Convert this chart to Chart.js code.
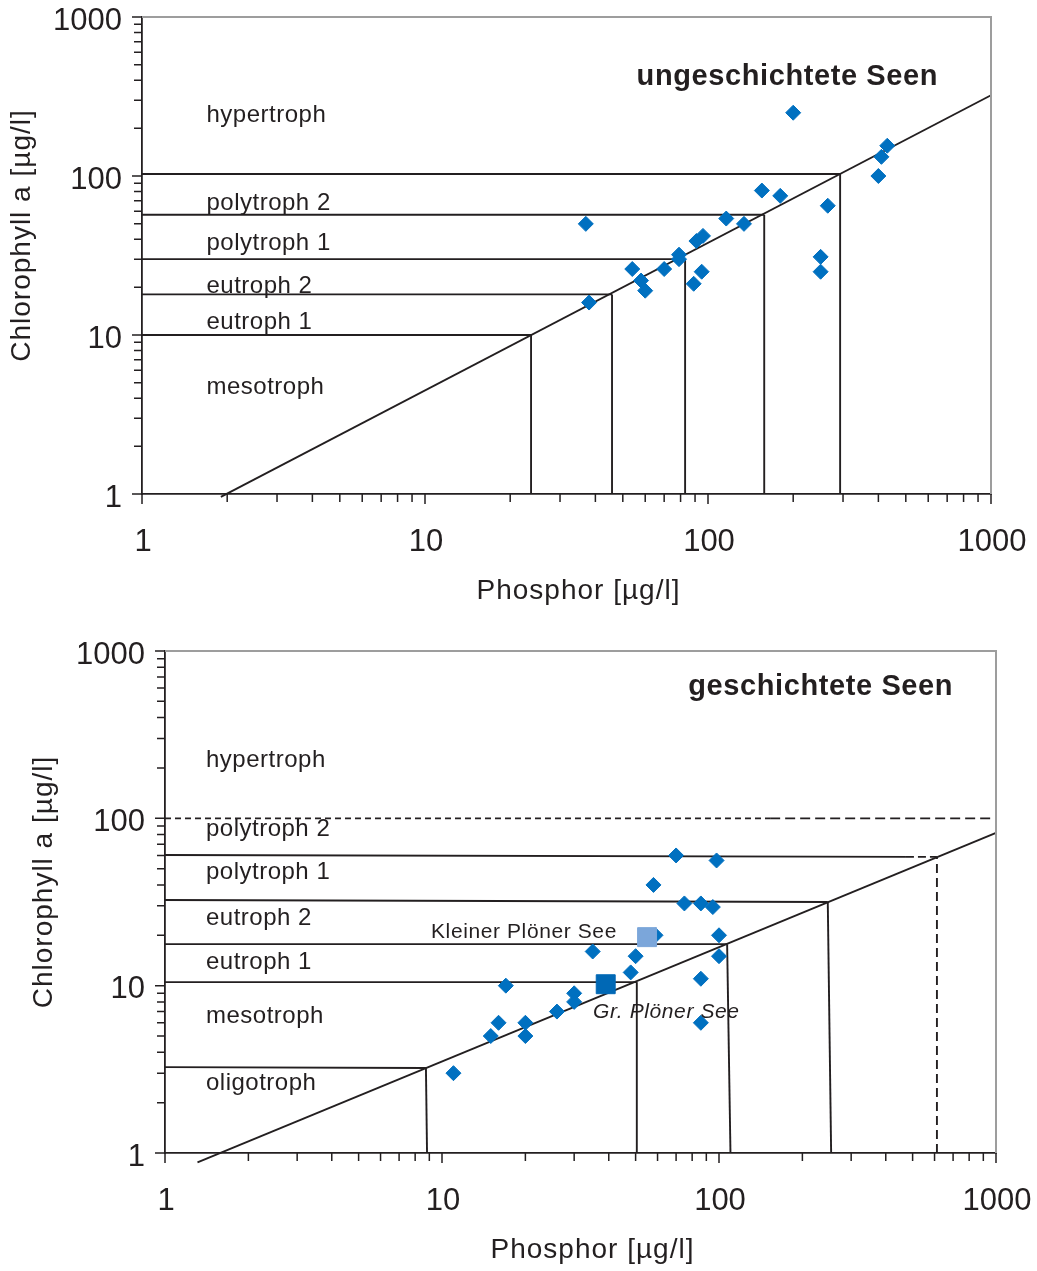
<!DOCTYPE html>
<html>
<head>
<meta charset="utf-8">
<script src="https://cdn.jsdelivr.net/npm/chart.js@4.4.1/dist/chart.umd.min.js"></script>
<style>
  body { margin: 0; background: #fff; }
  #topWrap { position: absolute; left: 0; top: 0; width: 1037px; height: 620px; }
  #botWrap { position: absolute; left: 0; top: 625px; width: 1037px; height: 646px; }
</style>
</head>
<body>
<div id="topWrap"><canvas id="topChart"></canvas></div>
<div id="botWrap"><canvas id="botChart"></canvas></div>
<script>
// Axis ticks (both charts, both axes)
const tickValues = [1, 10, 100, 1000];
const tickLabels = ['1', '10', '100', '1000'];

// --- ungeschichtete Seen (top) ---
const topP   = [200, 430, 410, 400, 155, 180, 265, 37, 116, 134, 96, 91, 79, 79, 54, 70, 95, 58, 60, 89, 38, 250, 250];
const topChl = [250, 155, 132, 100, 81, 75, 65, 50, 54, 50, 42, 39, 32, 30, 26, 26, 25, 22, 19, 21, 16, 31, 25];
const topClassNames = ['hypertroph', 'polytroph 2', 'polytroph 1', 'eutroph 2', 'eutroph 1', 'mesotroph'];
const topLabelChl = [241, 67.6, 37.9, 20.3, 12.0, 4.65];
const topLabelP = 1.69;
const topLimitChl = [103, 57, 30, 18, 10];
const topLimitP = [293, 158, 83, 45.8, 23.7];
const topDiagP = [1.9, 1000];
const topDiagChl = [0.96, 322];

// --- geschichtete Seen (bottom) ---
const botP   = [70, 98, 58, 75, 86, 95, 59, 100, 35, 50, 100, 48, 86, 17, 30, 30, 26, 16, 20, 15, 20, 86, 11];
const botChl = [60, 56, 40, 31, 31, 29.5, 20, 20, 16, 15, 15, 12, 11, 10, 9, 8, 7, 6, 6, 5, 5, 6, 3];
const kleinerP = [55];
const kleinerChl = [19.5];
const grossP = [39];
const grossChl = [10.2];
const botClassNames = ['hypertroph', 'polytroph 2', 'polytroph 1', 'eutroph 2', 'eutroph 1', 'mesotroph', 'oligotroph'];
const botLabelChl = [223, 86.4, 47.8, 25.4, 13.7, 6.59, 2.62];
const botLabelP = 1.406;
const botHyperChl = 100;
const botLimitChlLeft = [60.4, 32.5, 17.7, 10.5, 3.26];
const botLimitChl = [58.8, 31.6, 17.7, 10.5, 3.22];
const botLimitP = [612, 247, 107, 50.5, 8.75];
const botLimitPBase = [612, 254, 110, 50.5, 8.83];
const botSolidEndP = 473;
const botDashSplitP = 153;
const botDiagP = [1.31, 1000];
const botDiagChl = [0.88, 82];

const ink = '#231f20';
const blue = '#0070c0';
const font = 'Liberation Sans, Arial, sans-serif';

function line(xs, ys, dash, extra) {
  return Object.assign({
    data: xs.map((x, i) => ({ x: x, y: ys[i] })),
    showLine: true,
    pointRadius: 0,
    borderColor: ink,
    borderWidth: 1.9,
    borderDash: dash || [],
    order: 2
  }, extra || {});
}

function points(xs, ys, style, radius, color) {
  return {
    data: xs.map((x, i) => ({ x: x, y: ys[i] })),
    showLine: false,
    pointStyle: style,
    pointRadius: radius,
    pointBackgroundColor: color,
    pointBorderColor: color,
    pointBorderWidth: 1,
    order: style === 'rectRot' ? 1 : 0
  };
}

// minor tick values 2..9 per decade
const minorTicks = [];
[1, 10, 100].forEach(d => { for (let k = 2; k <= 9; k++) minorTicks.push(k * d); });

// frame, ticks and text drawn on top of the chart
const lakeDecor = {
  id: 'lakeDecor',
  afterDraw(chart, args, opts) {
    const { ctx, chartArea: a, scales: { x, y } } = chart;
    ctx.save();
    ctx.strokeStyle = '#9d9d9d';
    ctx.lineWidth = 2;
    ctx.beginPath();
    ctx.moveTo(a.left, a.top);
    ctx.lineTo(a.right, a.top);
    ctx.lineTo(a.right, a.bottom);
    ctx.stroke();

    ctx.strokeStyle = ink;
    ctx.lineWidth = 1.5;
    ctx.beginPath();
    tickValues.forEach(v => {
      const px = x.getPixelForValue(v), py = y.getPixelForValue(v);
      ctx.moveTo(px, a.bottom); ctx.lineTo(px, a.bottom + 10);
      ctx.moveTo(a.left, py); ctx.lineTo(a.left - 10, py);
    });
    minorTicks.forEach(v => {
      const px = x.getPixelForValue(v), py = y.getPixelForValue(v);
      ctx.moveTo(px, a.bottom); ctx.lineTo(px, a.bottom + 8);
      ctx.moveTo(a.left, py); ctx.lineTo(a.left - 8, py);
    });
    ctx.stroke();

    ctx.fillStyle = ink;
    ctx.textBaseline = 'middle';
    opts.labels.forEach(l => {
      ctx.font = l.font;
      ctx.letterSpacing = l.spacing || '0px';
      ctx.textAlign = l.align || 'left';
      ctx.fillText(l.text, x.getPixelForValue(l.x), y.getPixelForValue(l.y));
    });

    // axis titles
    ctx.font = '28px ' + font;
    ctx.letterSpacing = '1px';
    ctx.textAlign = 'center';
    ctx.fillText('Phosphor [µg/l]', (a.left + a.right) / 2 + 12, a.bottom + 97);
    ctx.translate(opts.yTitleX, (a.top + a.bottom) / 2 - 20);
    ctx.rotate(-Math.PI / 2);
    ctx.fillText('Chlorophyll a [µg/l]', 0, 0);
    ctx.letterSpacing = '0px';
    ctx.restore();
  }
};

function axis(isY, pad, size) {
  return {
    type: 'logarithmic',
    min: 1,
    max: 1000,
    afterBuildTicks: s => { s.ticks = tickValues.map(v => ({ value: v })); },
    afterFit: s => {
      if (isY) s.width = size; else s.height = size;
      // keep label overhang from moving the plot area
      s.paddingTop = 0; s.paddingBottom = 0; s.paddingLeft = 0; s.paddingRight = 0;
    },
    ticks: {
      callback: v => tickLabels[tickValues.indexOf(v)],
      font: { family: font, size: 31, lineHeight: 1.2 },
      color: ink,
      padding: pad,
      labelOffset: isY ? 4 : 1,
      autoSkip: false,
      maxRotation: 0
    },
    grid: { display: false, drawTicks: false },
    border: { color: ink, width: 1.8 }
  };
}

function zoneLabels(names, p, chl) {
  return names.map((t, i) => ({ text: t, x: p, y: chl[i], font: '24px ' + font, spacing: '0.5px' }));
}

function makeChart(id, datasets, labels, yWidth, xHeight, padTop, padRight, yTitleX) {
  return new Chart(document.getElementById(id), {
    type: 'scatter',
    data: { datasets: datasets },
    options: {
      responsive: true,
      maintainAspectRatio: false,
      animation: false,
      layout: { padding: { top: padTop, right: padRight, left: 0, bottom: 0 } },
      scales: { x: axis(false, 30, xHeight), y: axis(true, 20, yWidth) },
      plugins: {
        legend: { display: false },
        tooltip: { enabled: false },
        lakeDecor: { labels: labels, yTitleX: yTitleX }
      }
    },
    plugins: [lakeDecor]
  });
}

// top chart datasets
const topSets = [points(topP, topChl, 'rectRot', 7.5, blue)];
topLimitP.forEach((p, i) => {
  topSets.push(line([1, p], [topLimitChl[i], topLimitChl[i]]));
  topSets.push(line([p, p], [1, topLimitChl[i]]));
});
topSets.push(line(topDiagP, topDiagChl, null, { clip: false }));

const topLabels = zoneLabels(topClassNames, topLabelP, topLabelChl);
topLabels.push({ text: 'ungeschichtete Seen', x: 650, y: 419, font: 'bold 29px ' + font, spacing: '0.6px', align: 'right' });

makeChart('topChart', topSets, topLabels, 142, 126, 17, 46, 22);

// bottom chart datasets
const botSets = [
  points(kleinerP, kleinerChl, 'rect', 13.4, '#7ba6da'),
  points(grossP, grossChl, 'rect', 13.4, '#0068b5'),
  points(botP, botChl, 'rectRot', 7.5, blue),
  line([1, botDashSplitP], [botHyperChl, botHyperChl], [6, 4]),
  line([botDashSplitP, 1000], [botHyperChl, botHyperChl], [10, 5])
];
botLimitP.forEach((p, i) => {
  if (i === 0) {
    const yEnd = botLimitChl[0];
    botSets.push(line([1, botSolidEndP], [botLimitChlLeft[0], yEnd]));
    botSets.push(line([botSolidEndP, p], [yEnd, yEnd], [8, 4]));
    botSets.push(line([botLimitPBase[0], p], [1, yEnd], [9, 5]));
  } else {
    botSets.push(line([1, p], [botLimitChlLeft[i], botLimitChl[i]]));
    botSets.push(line([botLimitPBase[i], p], [1, botLimitChl[i]]));
  }
});
botSets.push(line(botDiagP, botDiagChl, null, { clip: false }));

const botLabels = zoneLabels(botClassNames, botLabelP, botLabelChl);
botLabels.push({ text: 'geschichtete Seen', x: 700, y: 610, font: 'bold 29px ' + font, spacing: '0.6px', align: 'right' });
botLabels.push({ text: 'Kleiner Plöner See', x: 42.8, y: 20.9, font: '21px ' + font, spacing: '0.6px', align: 'right' });
botLabels.push({ text: 'Gr. Plöner See', x: 35.1, y: 6.96, font: 'italic 21px ' + font, spacing: '0.6px' });

makeChart('botChart', botSets, botLabels, 165, 118, 26, 41, 44);
</script>
</body>
</html>
